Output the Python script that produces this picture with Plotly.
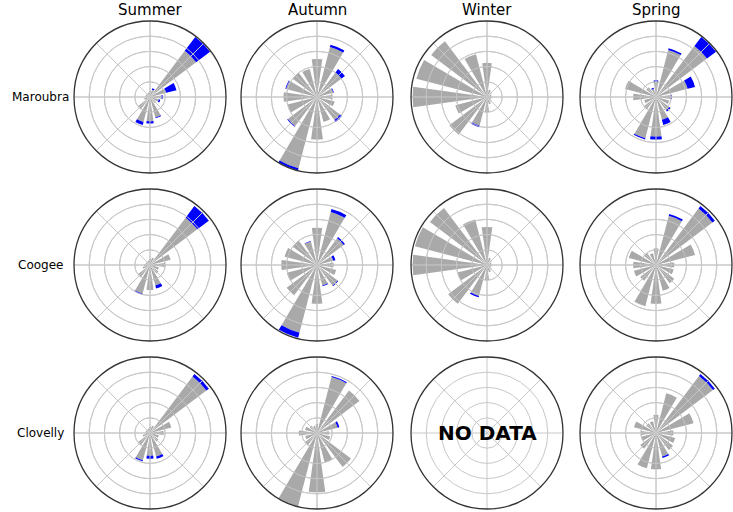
import numpy as np
import plotly.graph_objects as go

seasons = ["Summer", "Autumn", "Winter", "Spring"]
beaches = ["Maroubra", "Coogee", "Clovelly"]
directions = [0, 22.5, 45, 67.5, 90, 112.5, 135, 157.5,
              180, 202.5, 225, 247.5, 270, 292.5, 315, 337.5]
ring_ticks = [1, 2, 3, 4]
spoke_ticks = [0, 45, 90, 135, 180, 225, 270, 315]
r_max = 5

# gray = lower part of each bar, blue = part stacked on top
maroubra_summer_gray = [0.4, 0.5, 3.8, 1.1, 0.75, 0.6, 0.5, 1.4, 1.6, 1.7, 1.0, 0.4, 0.3, 0.3, 0.3, 0.3]
maroubra_summer_blue = [0, 0.1, 1.15, 0.7, 0.1, 0.1, 0, 0.05, 0.15, 0.2, 0, 0, 0, 0, 0, 0]
maroubra_autumn_gray = [2.5, 3.4, 2.0, 1.1, 1.0, 1.2, 1.9, 1.7, 2.8, 4.85, 2.4, 2.0, 2.2, 2.1, 2.0, 1.9]
maroubra_autumn_blue = [0, 0.15, 0.3, 0.05, 0, 0, 0.15, 0, 0, 0.15, 0.05, 0, 0, 0.05, 0, 0]
maroubra_winter_gray = [2.25, 0.5, 0.4, 0.3, 0.3, 0.3, 0.4, 0.5, 1.0, 1.95, 3.1, 2.15, 4.9, 4.8, 4.6, 2.9]
maroubra_winter_blue = [0, 0, 0, 0, 0, 0, 0, 0, 0, 0.1, 0, 0, 0, 0, 0, 0]
maroubra_spring_gray = [1.0, 3.2, 4.2, 2.15, 1.0, 0.9, 1.1, 1.55, 2.6, 2.8, 1.0, 0.8, 1.5, 2.1, 0.8, 0.55]
maroubra_spring_blue = [0.1, 0.12, 0.75, 0.5, 0.05, 0, 0.1, 0.35, 0.2, 0.08, 0, 0, 0, 0, 0, 0.08]

coogee_summer_gray = [0.4, 0.5, 3.9, 1.4, 1.0, 0.6, 0.7, 1.4, 1.65, 1.95, 1.0, 0.5, 0.4, 0.3, 0.3, 0.3]
coogee_summer_blue = [0, 0, 0.95, 0, 0, 0, 0, 0.2, 0, 0.05, 0, 0, 0, 0, 0, 0]
coogee_autumn_gray = [2.45, 3.6, 2.2, 1.1, 1.1, 1.3, 1.7, 1.4, 2.55, 4.6, 2.5, 2.05, 2.35, 2.2, 2.0, 1.6]
coogee_autumn_blue = [0, 0.2, 0.1, 0.15, 0, 0, 0.05, 0.05, 0, 0.35, 0, 0, 0, 0, 0, 0.03]
coogee_winter_gray = [2.5, 0.5, 0.4, 0.3, 0.3, 0.3, 0.4, 0.5, 1.0, 2.1, 3.2, 2.0, 4.9, 4.9, 4.7, 3.1]
coogee_winter_blue = [0, 0, 0, 0, 0, 0, 0, 0, 0, 0.1, 0, 0, 0, 0, 0, 0]
coogee_spring_gray = [1.1, 3.35, 4.65, 2.65, 1.2, 1.2, 1.5, 1.75, 2.55, 2.8, 1.3, 1.5, 1.5, 1.85, 1.0, 0.8]
coogee_spring_blue = [0, 0.12, 0.2, 0, 0, 0, 0, 0, 0, 0, 0, 0, 0, 0, 0, 0]

clovelly_summer_gray = [0.4, 0.5, 4.65, 1.45, 0.9, 0.6, 0.7, 1.6, 1.5, 1.85, 1.0, 0.5, 0.3, 0.3, 0.3, 0.3]
clovelly_summer_blue = [0, 0, 0.2, 0, 0, 0, 0, 0.15, 0.2, 0.07, 0, 0, 0, 0, 0, 0]
clovelly_autumn_gray = [0.6, 3.8, 3.5, 1.4, 0.8, 0.9, 2.8, 2.0, 3.9, 5.0, 1.0, 0.8, 1.2, 0.8, 0.6, 0.5]
clovelly_autumn_blue = [0, 0.07, 0, 0.12, 0, 0, 0, 0, 0, 0, 0, 0, 0, 0, 0, 0]
clovelly_spring_gray = [1.2, 2.7, 4.7, 2.55, 1.15, 1.3, 1.4, 1.6, 2.4, 2.4, 1.3, 1.0, 1.0, 1.5, 0.8, 0.8]
clovelly_spring_blue = [0, 0, 0.15, 0, 0, 0, 0, 0.1, 0, 0, 0, 0, 0, 0, 0, 0]

data = {
    ("Maroubra", "Summer"): (maroubra_summer_gray, maroubra_summer_blue),
    ("Maroubra", "Autumn"): (maroubra_autumn_gray, maroubra_autumn_blue),
    ("Maroubra", "Winter"): (maroubra_winter_gray, maroubra_winter_blue),
    ("Maroubra", "Spring"): (maroubra_spring_gray, maroubra_spring_blue),
    ("Coogee", "Summer"): (coogee_summer_gray, coogee_summer_blue),
    ("Coogee", "Autumn"): (coogee_autumn_gray, coogee_autumn_blue),
    ("Coogee", "Winter"): (coogee_winter_gray, coogee_winter_blue),
    ("Coogee", "Spring"): (coogee_spring_gray, coogee_spring_blue),
    ("Clovelly", "Summer"): (clovelly_summer_gray, clovelly_summer_blue),
    ("Clovelly", "Autumn"): (clovelly_autumn_gray, clovelly_autumn_blue),
    ("Clovelly", "Spring"): (clovelly_spring_gray, clovelly_spring_blue),
}

W, H = 733, 512
col_x = [150, 317, 487, 656]
row_y = [97, 265, 433]
rad = 76
grid_col = "#c8c8c8"

# grid drawn on top of the bars (as in the reference)
circle = np.linspace(0, 360, 181)
grid_r, grid_t = [], []
for rt in ring_ticks:
    grid_r += [rt] * len(circle) + [None]
    grid_t += list(circle) + [None]
for st in spoke_ticks:
    grid_r += [0, r_max, None]
    grid_t += [st, st, None]

fig = go.Figure()
layout = dict(width=W, height=H, margin=dict(l=0, r=0, t=0, b=0),
              paper_bgcolor="white", showlegend=False,
              font=dict(family="DejaVu Sans", color="black"))
annotations = []

k = 0
for i, beach in enumerate(beaches):
    for j, season in enumerate(seasons):
        k += 1
        name = "polar" if k == 1 else "polar%d" % k
        cx, cy = col_x[j], row_y[i]
        layout[name] = dict(
            domain=dict(x=[(cx - rad) / W, (cx + rad) / W],
                        y=[1 - (cy + rad) / H, 1 - (cy - rad) / H]),
            bgcolor="white",
            barmode="stack",
            angularaxis=dict(rotation=90, direction="clockwise", dtick=45,
                             showticklabels=False, ticks="",
                             gridcolor=grid_col, gridwidth=1,
                             showline=True, linecolor="#333333", linewidth=1.3),
            radialaxis=dict(range=[0, r_max], tickvals=ring_ticks,
                            showticklabels=False, ticks="", showline=False,
                            gridcolor=grid_col, gridwidth=1),
        )
        sub = name
        if (beach, season) in data:
            gray, blue = data[(beach, season)]
            fig.add_trace(go.Barpolar(r=gray, theta=directions, width=16,
                                      marker=dict(color="#a9a9a9", line=dict(width=0)),
                                      subplot=sub, hoverinfo="skip"))
            fig.add_trace(go.Barpolar(r=blue, theta=directions, width=16,
                                      marker=dict(color="#0000ff", line=dict(width=0)),
                                      subplot=sub, hoverinfo="skip"))
            fig.add_trace(go.Scatterpolar(r=grid_r, theta=grid_t, mode="lines",
                                          line=dict(color=grid_col, width=1),
                                          subplot=sub, hoverinfo="skip"))
        else:
            fig.add_trace(go.Barpolar(r=[], theta=[], subplot=sub))
            annotations.append(dict(x=cx / W, y=1 - cy / H, xref="paper", yref="paper",
                                    xanchor="center", yanchor="middle",
                                    text="<b>NO DATA</b>", showarrow=False,
                                    font=dict(size=20, color="black")))

for j, season in enumerate(seasons):
    annotations.append(dict(x=col_x[j] / W, y=1 - 10 / H, xref="paper", yref="paper",
                            xanchor="center", yanchor="middle",
                            text=season, showarrow=False, font=dict(size=15)))
for i, beach in enumerate(beaches):
    annotations.append(dict(x=40 / W, y=1 - row_y[i] / H, xref="paper", yref="paper",
                            xanchor="center", yanchor="middle",
                            text=beach, showarrow=False, font=dict(size=12)))

layout["annotations"] = annotations
fig.update_layout(**layout)
fig.write_html("out.html", config={"displayModeBar": False},
               post_script="document.body.style.margin='0px';")
